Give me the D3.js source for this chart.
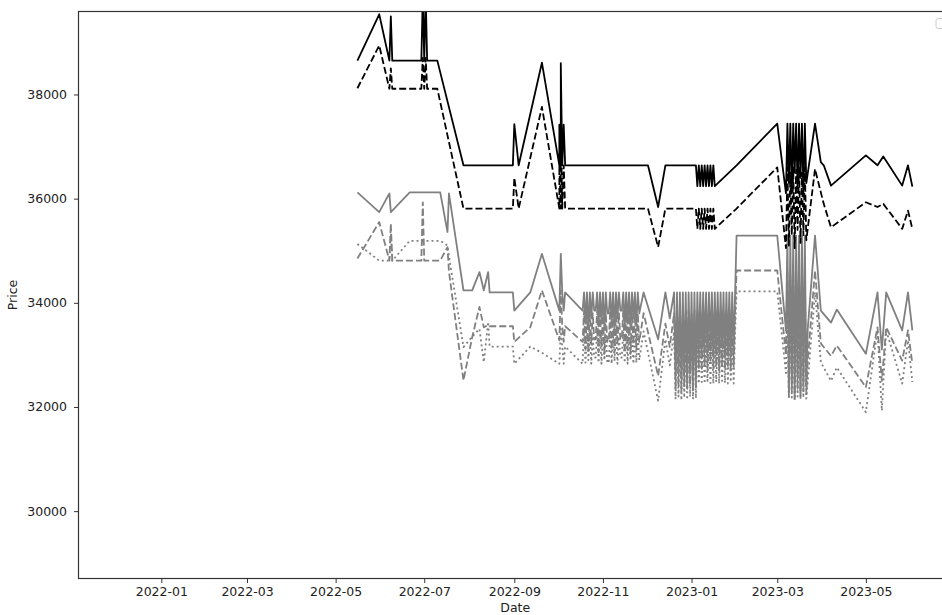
<!DOCTYPE html>
<html>
<head>
<meta charset="utf-8">
<script src="https://cdn.jsdelivr.net/npm/d3@7/dist/d3.min.js"></script>
<style>
  html, body { margin: 0; padding: 0; background: #fff; }
  svg { display: block; font-family: "DejaVu Sans", sans-serif; }
</style>
</head>
<body>
<svg id="chart" width="942" height="615"></svg>
<script>
// Upper pair of price series (black)
const blackDates = [
  "2022-05-16","2022-05-31","2022-06-07","2022-06-08","2022-06-09","2022-06-29","2022-06-30","2022-07-01",
  "2022-07-02","2022-07-03","2022-07-10","2022-07-28","2022-08-31","2022-09-01","2022-09-04","2022-09-20",
  "2022-10-02","2022-10-02","2022-10-03","2022-10-03","2022-10-04","2022-10-05","2022-10-06","2022-12-02",
  "2022-12-09","2022-12-14","2023-01-04","2023-01-05","2023-01-06","2023-01-07","2023-01-08","2023-01-09",
  "2023-01-10","2023-01-11","2023-01-12","2023-01-13","2023-01-14","2023-01-15","2023-01-16","2023-01-17",
  "2023-02-01","2023-03-01","2023-03-07","2023-03-08","2023-03-09","2023-03-10","2023-03-11","2023-03-12",
  "2023-03-13","2023-03-14","2023-03-15","2023-03-16","2023-03-17","2023-03-18","2023-03-19","2023-03-20",
  "2023-03-21","2023-03-27","2023-03-31","2023-04-02","2023-04-07","2023-05-01","2023-05-09","2023-05-13",
  "2023-05-26","2023-05-30","2023-06-02"
];
const blackSolid = [
  38650,39540,38650,39500,38650,38650,39900,38650,
  39900,38650,38650,36640,36640,37430,36640,38610,
  36640,37420,36640,38600,36640,37420,36640,36640,
  35840,36640,36640,36240,36640,36240,36640,36240,
  36640,36240,36640,36240,36640,36240,36640,36240,
  36640,37440,36100,37440,36300,37440,36100,37440,
  36500,37440,36200,37440,36400,37440,36100,37440,
  36300,37440,36700,36640,36250,36830,36640,36810,
  36250,36640,36230
];
const blackDashed = [
  38120,38940,38110,38500,38110,38110,38700,38110,
  38700,38110,38110,35810,35810,36400,35810,37760,
  35810,36640,35810,37420,35810,36640,35810,35810,
  35070,35810,35810,35420,35810,35420,35810,35420,
  35810,35420,35810,35420,35810,35420,35810,35420,
  35810,36600,35050,36600,35100,36500,35300,36600,
  35050,36550,35400,36600,35150,36500,35300,36600,
  35200,36570,36120,35900,35450,35930,35840,35900,
  35420,35770,35420
];

// Lower group of price series (gray)
const grayDates = [
  "2022-05-16","2022-05-31","2022-06-07","2022-06-08","2022-06-09","2022-06-21","2022-06-29","2022-06-30",
  "2022-07-01","2022-07-12","2022-07-17","2022-07-18","2022-07-28","2022-08-03","2022-08-08","2022-08-11",
  "2022-08-14","2022-08-15","2022-08-31","2022-09-01","2022-09-12","2022-09-20","2022-10-02","2022-10-03",
  "2022-10-04","2022-10-05","2022-10-06","2022-10-18","2022-10-19","2022-10-20","2022-10-21","2022-10-22",
  "2022-10-23","2022-10-24","2022-10-25","2022-10-26","2022-10-27","2022-10-28","2022-10-29","2022-10-30",
  "2022-10-31","2022-11-01","2022-11-02","2022-11-03","2022-11-04","2022-11-05","2022-11-06","2022-11-07",
  "2022-11-08","2022-11-09","2022-11-10","2022-11-11","2022-11-12","2022-11-13","2022-11-14","2022-11-15",
  "2022-11-16","2022-11-17","2022-11-18","2022-11-19","2022-11-20","2022-11-21","2022-11-22","2022-11-23",
  "2022-11-24","2022-11-25","2022-11-26","2022-11-29","2022-12-09","2022-12-14","2022-12-17","2022-12-20",
  "2022-12-21","2022-12-22","2022-12-23","2022-12-24","2022-12-25","2022-12-26","2022-12-27","2022-12-28",
  "2022-12-29","2022-12-30","2022-12-31","2023-01-01","2023-01-02","2023-01-03","2023-01-04","2023-01-05",
  "2023-01-06","2023-01-07","2023-01-08","2023-01-09","2023-01-10","2023-01-11","2023-01-12","2023-01-13",
  "2023-01-14","2023-01-15","2023-01-16","2023-01-17","2023-01-18","2023-01-19","2023-01-20","2023-01-21",
  "2023-01-22","2023-01-23","2023-01-24","2023-01-25","2023-01-26","2023-01-27","2023-01-28","2023-01-29",
  "2023-01-30","2023-01-31","2023-02-01","2023-03-01","2023-03-07","2023-03-08","2023-03-09","2023-03-10",
  "2023-03-11","2023-03-12","2023-03-13","2023-03-14","2023-03-15","2023-03-16","2023-03-17","2023-03-18",
  "2023-03-19","2023-03-20","2023-03-21","2023-03-22","2023-03-27","2023-03-31","2023-04-07","2023-04-11",
  "2023-05-01","2023-05-09","2023-05-12","2023-05-15","2023-05-26","2023-05-30","2023-06-02"
];
const graySolid = [
  36120,35740,36100,35740,35770,36120,36120,36120,
  36120,36120,35360,36100,34240,34240,34590,34240,
  34590,34200,34200,33850,34200,34940,33850,34940,
  34200,33850,34200,33850,34200,33600,34200,33500,
  34200,33700,34200,33850,33850,34200,33550,34200,
  33600,34200,33500,34200,33800,33800,34200,33600,
  34200,33500,34200,33700,34200,33850,33850,34200,
  33550,34200,33600,34200,33500,34200,33700,34200,
  33550,34200,33800,34200,33300,34200,33700,34200,
  32600,34200,32700,34200,32550,34200,32650,34200,
  32600,34200,32700,34200,32600,34200,32650,34200,
  33100,34200,33000,34200,33150,34200,33050,34200,
  33200,34200,33000,34200,33100,34200,33050,34200,
  33150,34200,33000,34200,33100,34200,33050,34200,
  33100,34200,35290,35290,33470,35290,32300,35290,
  32500,35290,32200,35290,32600,35290,32300,35290,
  32500,35290,32400,33500,35290,33850,33620,33870,
  33020,34200,33100,34200,33470,34200,33470
];
const grayDashed = [
  34850,35550,34810,35520,34810,34810,34810,35930,
  34810,34810,35070,34600,32510,33340,33920,33530,
  33570,33550,33550,33250,33530,34240,33280,34240,
  33550,33250,33550,33250,33850,33100,33800,33050,
  33850,33200,33800,33300,33300,33850,33050,33800,
  33150,33850,33020,33800,33250,33250,33850,33100,
  33800,33050,33850,33200,33800,33300,33300,33850,
  33050,33800,33100,33850,33020,33800,33200,33850,
  33100,33800,33250,33800,32600,33600,33150,33800,
  32350,33850,32400,33800,32300,33850,32400,33800,
  32350,33850,32420,33800,32330,33850,32380,33800,
  32750,33850,32700,33800,32800,33850,32700,33800,
  32850,33850,32720,33800,32780,33850,32700,33800,
  32800,33850,32720,33800,32750,33850,32700,33800,
  32780,33850,34620,34620,33000,34600,32200,34550,
  32300,34600,32150,34620,32350,34600,32200,34550,
  32300,34600,32250,32900,34620,33220,32980,33180,
  32380,33530,32500,33530,32890,33470,32830
];
const grayDotted = [
  35130,34810,34810,35330,34810,35190,35190,35190,
  35190,35190,35100,34900,33150,33350,33500,32860,
  33630,33160,33160,32830,33160,33040,32830,33500,
  33160,32830,33160,32830,33450,32850,33400,32900,
  33450,32830,33350,32950,32950,33450,32850,33400,
  32830,33450,32900,33400,32850,32850,33450,32830,
  33400,32880,33450,32830,33350,32950,32950,33450,
  32850,33400,32830,33450,32900,33400,32830,33450,
  32850,33400,32900,33450,32120,33300,32800,33450,
  32150,33500,32200,33450,32130,33500,32180,33450,
  32140,33500,32200,33450,32150,33500,32170,33450,
  32450,33450,32480,33400,32450,33450,32500,33400,
  32460,33450,32450,33400,32480,33450,32450,33400,
  32500,33450,32460,33400,32450,33450,32480,33400,
  32450,33450,34220,34220,32650,34200,32150,34150,
  32180,34200,32140,34220,32200,34200,32150,34150,
  32180,34200,32160,32500,34200,32860,32500,32760,
  31900,33470,31930,33470,32450,33280,32480
];

const yTicks = [30000, 32000, 34000, 36000, 38000];
const xTickLabels = ["2022-01","2022-03","2022-05","2022-07","2022-09","2022-11","2023-01","2023-03","2023-05"];

const svg = d3.select("#chart");
const plot = { left: 78.5, right: 952, top: 11.5, bottom: 578.5 };

const parseDay = d3.utcParse("%Y-%m-%d");
const parseMonth = d3.utcParse("%Y-%m");

const x = d3.scaleUtc()
  .domain([new Date(Date.UTC(2021, 10, 5)), new Date(Date.UTC(2023, 5, 29, 7))])
  .range([plot.left, plot.right]);
const y = d3.scaleLinear()
  .domain([28707, 39593])
  .range([plot.bottom, plot.top]);

svg.append("defs").append("clipPath").attr("id", "plot-clip")
  .append("rect")
  .attr("x", plot.left).attr("y", plot.top)
  .attr("width", plot.right - plot.left).attr("height", plot.bottom - plot.top);

const line = d3.line().x(d => x(d[0])).y(d => y(d[1]));
const zipSeries = (dates, values) => dates.map((d, i) => [parseDay(d), values[i]]);

const series = [
  { dates: grayDates, values: graySolid, color: "#808080", dash: null },
  { dates: grayDates, values: grayDashed, color: "#808080", dash: "7,3" },
  { dates: grayDates, values: grayDotted, color: "#808080", dash: "2,3" },
  { dates: blackDates, values: blackSolid, color: "#000000", dash: null },
  { dates: blackDates, values: blackDashed, color: "#000000", dash: "7,3" }
];

const lines = svg.append("g").attr("clip-path", "url(#plot-clip)");
series.forEach(s => {
  lines.append("path")
    .datum(zipSeries(s.dates, s.values))
    .attr("fill", "none")
    .attr("stroke", s.color)
    .attr("stroke-width", 1.8)
    .attr("stroke-linejoin", "round")
    .attr("stroke-dasharray", s.dash)
    .attr("d", line);
});

// Axes
const xAxis = d3.axisBottom(x)
  .tickValues(xTickLabels.map(parseMonth))
  .tickFormat(d3.utcFormat("%Y-%m"))
  .tickSize(4.5).tickPadding(4);
const yAxis = d3.axisLeft(y)
  .tickValues(yTicks)
  .tickFormat(d3.format("d"))
  .tickSize(4.5).tickPadding(7);

const gx = svg.append("g").attr("transform", `translate(0,${plot.bottom})`).call(xAxis);
const gy = svg.append("g").attr("transform", `translate(${plot.left},0)`).call(yAxis);
[gx, gy].forEach(g => {
  g.select(".domain").remove();
  g.selectAll(".tick line").attr("stroke", "#333").attr("stroke-width", 1);
  g.selectAll(".tick text").attr("fill", "#222").style("font-size", "12.5px")
    .style("font-family", "'DejaVu Sans', sans-serif");
});

// Frame
svg.append("rect")
  .attr("x", plot.left).attr("y", plot.top)
  .attr("width", plot.right - plot.left).attr("height", plot.bottom - plot.top)
  .attr("fill", "none").attr("stroke", "#333").attr("stroke-width", 1.2);

// Empty legend frame in the upper right corner
svg.append("rect")
  .attr("x", 936).attr("y", 18.5).attr("width", 10).attr("height", 10).attr("rx", 2)
  .attr("fill", "#fff").attr("fill-opacity", 0.8)
  .attr("stroke", "#cccccc").attr("stroke-width", 1);

// Axis titles
svg.append("text")
  .attr("x", (plot.left + plot.right) / 2).attr("y", 612)
  .attr("text-anchor", "middle").attr("fill", "#222")
  .style("font-size", "12.5px").text("Date");
svg.append("text")
  .attr("transform", `translate(17,${(plot.top + plot.bottom) / 2}) rotate(-90)`)
  .attr("text-anchor", "middle").attr("fill", "#222")
  .style("font-size", "12.5px").text("Price");
</script>
</body>
</html>
